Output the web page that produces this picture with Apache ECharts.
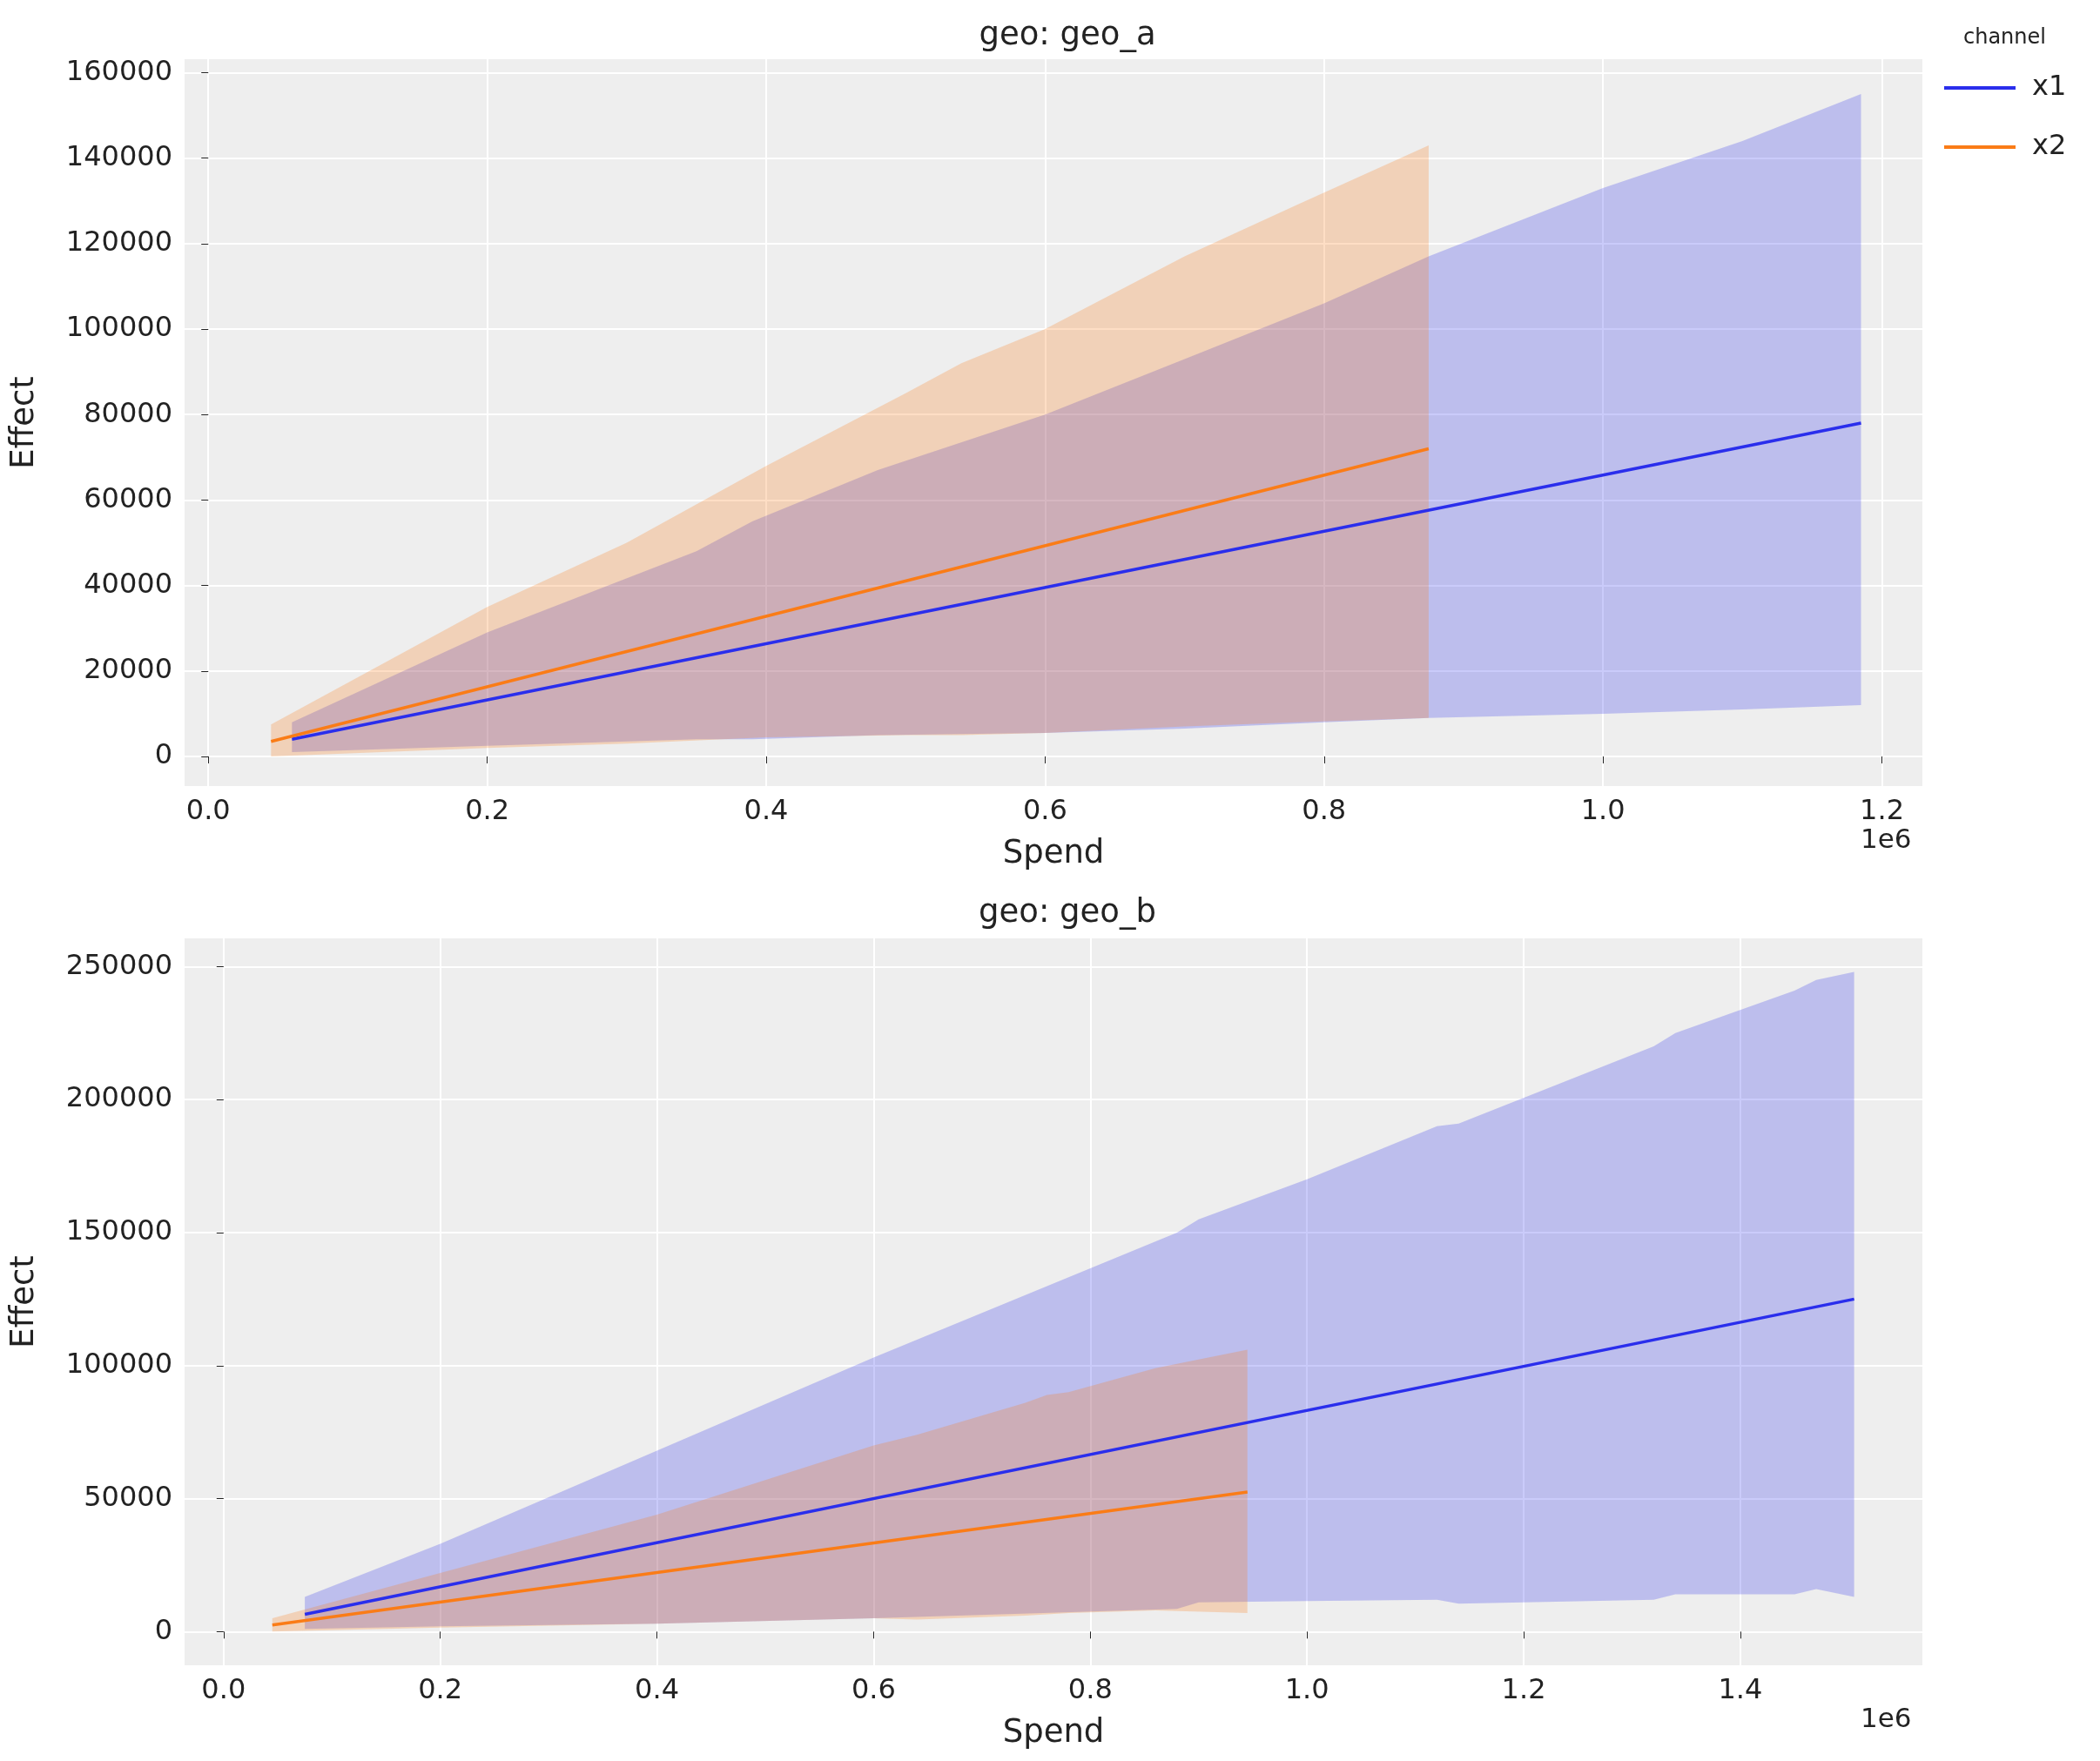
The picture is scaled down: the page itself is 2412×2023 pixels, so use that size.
<!DOCTYPE html>
<html><head><meta charset="utf-8">
<script src="https://cdn.jsdelivr.net/npm/echarts@6/dist/echarts.min.js"></script>
<style>html,body{margin:0;padding:0;background:#fff}#c{width:2412px;height:2023px}</style>
</head><body><div id="c"></div>
<script>
// Spend in units of 1e6
const aX1_line = [[0.06,4000],[1.185,78000]];
const aX1_x  = [0.06,0.2,0.35,0.39,0.48,0.6,0.7,0.8,0.875,1.0,1.1,1.185];
const aX1_hi = [8000,29000,48000,55000,67000,80000,93000,106000,117000,133000,144000,155000];
const aX1_lo = [1000,2500,4000,4000,5000,5500,6500,8000,9000,10000,11000,12000];
const aX2_line = [[0.045,3500],[0.875,72000]];
const aX2_x  = [0.045,0.2,0.3,0.4,0.5,0.54,0.6,0.7,0.78,0.875];
const aX2_hi = [7500,35000,50000,68000,85000,92000,100000,117000,129000,143000];
const aX2_lo = [0,2000,3000,4500,5000,5000,5500,7000,8000,9000];

const bX1_line = [[0.075,6500],[1.505,125000]];
const bX1_x  = [0.075,0.2,0.4,0.6,0.88,0.9,1.0,1.12,1.14,1.32,1.34,1.45,1.47,1.505];
const bX1_hi = [13000,33000,68000,103000,150000,155000,170000,190000,191000,220000,225000,241000,245000,248000];
const bX1_lo = [1000,2000,3000,5000,8500,11000,11500,12000,10500,12000,14000,14000,16000,13000];
const bX2_line = [[0.045,2500],[0.945,52500]];
const bX2_x  = [0.045,0.2,0.4,0.6,0.64,0.74,0.76,0.78,0.86,0.945];
const bX2_hi = [5000,22000,44000,70000,74000,86000,89000,90000,99000,106000];
const bX2_lo = [0,1500,3000,5000,4500,6000,6500,7000,8000,7000];

const xTicksA = [0,0.2,0.4,0.6,0.8,1.0,1.2];
const xTicksB = [0,0.2,0.4,0.6,0.8,1.0,1.2,1.4];
const yTicksA = [0,20000,40000,60000,80000,100000,120000,140000,160000];
const yTicksB = [0,50000,100000,150000,200000,250000];

const BLUE='#2a2eec', ORANGE='#fa7c17';
const FS=32, FONT='DejaVu Sans';

function band(xs,lo,hi,color,idx){
  const data = xs.map((x,i)=>[x,lo[i],hi[i]]);
  return {type:'custom',xAxisIndex:idx,yAxisIndex:idx,data:data,encode:{x:0,y:[1,2]},silent:true,z:1,
    renderItem:function(params,api){
      if(params.dataIndex!==0) return;
      const top=data.map(d=>api.coord([d[0],d[2]]));
      const bot=data.slice().reverse().map(d=>api.coord([d[0],d[1]]));
      return {type:'polygon',shape:{points:top.concat(bot)},style:{fill:color}};
    }};
}
function line(d,color,idx,name){
  return {type:'line',name:name,xAxisIndex:idx,yAxisIndex:idx,data:d,showSymbol:false,z:3,lineStyle:{color:color,width:3.5},itemStyle:{color:color}};
}
function xAxis(idx,min,max,ticks){
  return {type:'value',gridIndex:idx,min:min,max:max,name:'Spend',nameLocation:'middle',nameGap:60,
    nameTextStyle:{fontSize:37,color:'#222',fontFamily:FONT},
    axisLine:{show:false},axisTick:{show:true,customValues:ticks,length:8,lineStyle:{color:'#222'}},
    axisLabel:{customValues:ticks,fontSize:FS,color:'#222',fontFamily:FONT,margin:14,formatter:v=>v.toFixed(1)},
    splitLine:{show:true,lineStyle:{color:'#fff',width:2}}};
}
function yAxis(idx,min,max,ticks){
  return {type:'value',gridIndex:idx,min:min,max:max,name:'Effect',nameLocation:'middle',nameGap:165,
    nameTextStyle:{fontSize:37,color:'#222',fontFamily:FONT},
    axisLine:{show:false},axisTick:{show:true,customValues:ticks,length:8,lineStyle:{color:'#222'}},
    axisLabel:{customValues:ticks,fontSize:FS,color:'#222',fontFamily:FONT,margin:14,formatter:v=>String(v)},
    splitLine:{show:true,lineStyle:{color:'#fff',width:2}}};
}
const chart=echarts.init(document.getElementById('c'));
chart.setOption({
  animation:false,
  backgroundColor:'#fff',
  title:[
    {text:'geo: geo_a',left:1221,top:18,textAlign:'center',textStyle:{fontSize:37,fontWeight:'normal',color:'#222',fontFamily:FONT}},
    {text:'geo: geo_b',left:1221,top:1026,textAlign:'center',textStyle:{fontSize:37,fontWeight:'normal',color:'#222',fontFamily:FONT}}
  ],
  graphic:[
    {type:'text',left:2255,top:32,style:{text:'channel',fontSize:24,fill:'#222',fontFamily:FONT}},
    {type:'text',left:2137,top:950,style:{text:'1e6',fontSize:31,fill:'#222',fontFamily:FONT}},
    {type:'text',left:2137,top:1960,style:{text:'1e6',fontSize:31,fill:'#222',fontFamily:FONT}}
  ],
  legend:{data:['x1','x2'],orient:'vertical',left:2228,top:80,itemWidth:82,itemHeight:4,itemGap:36,icon:'rect',
    textStyle:{fontSize:32,color:'#222',fontFamily:FONT,padding:[0,0,0,14]}},
  grid:[
    {left:212,width:1996,top:68,height:835,backgroundColor:'#eeeeee',show:true,borderWidth:0},
    {left:212,width:1996,top:1078,height:835,backgroundColor:'#eeeeee',show:true,borderWidth:0}
  ],
  xAxis:[xAxis(0,-0.017,1.229,xTicksA),xAxis(1,-0.036,1.568,xTicksB)],
  yAxis:[yAxis(0,-6930,163150,yTicksA),yAxis(1,-12650,260600,yTicksB)],
  series:[
    band(aX1_x,aX1_lo,aX1_hi,'rgba(42,46,236,0.25)',0),
    band(aX2_x,aX2_lo,aX2_hi,'rgba(250,124,23,0.25)',0),
    line(aX1_line,BLUE,0,'x1'),
    line(aX2_line,ORANGE,0,'x2'),
    band(bX1_x,bX1_lo,bX1_hi,'rgba(42,46,236,0.25)',1),
    band(bX2_x,bX2_lo,bX2_hi,'rgba(250,124,23,0.25)',1),
    line(bX1_line,BLUE,1,'x1'),
    line(bX2_line,ORANGE,1,'x2')
  ]
});
</script></body></html>
